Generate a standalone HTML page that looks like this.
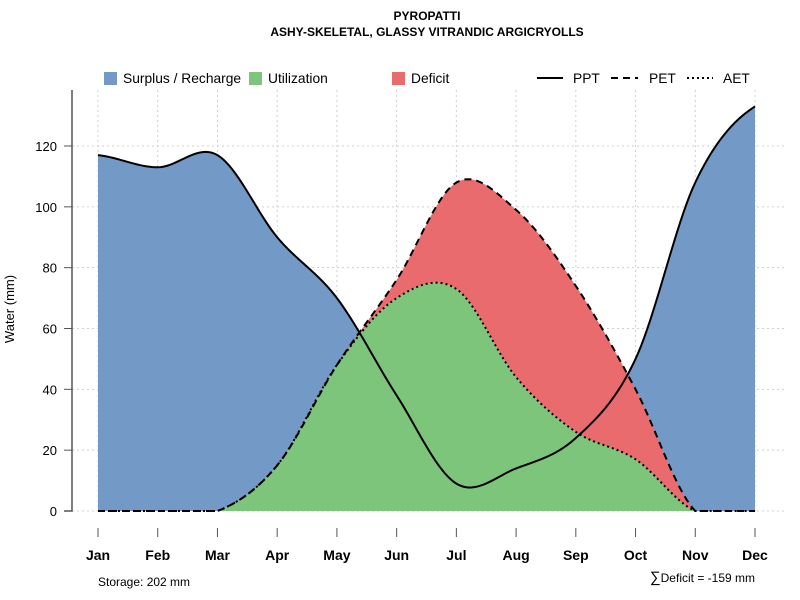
<!DOCTYPE html>
<html><head><meta charset="utf-8"><style>
body{margin:0;background:#fff}
svg{display:block;font-family:"Liberation Sans",sans-serif}
</style></head><body>
<svg id="c" width="800" height="600" xmlns="http://www.w3.org/2000/svg">
<text x="427" y="20" text-anchor="middle" font-size="12" font-weight="bold">PYROPATTI</text>
<text x="427" y="36" text-anchor="middle" font-size="12" font-weight="bold">ASHY-SKELETAL, GLASSY VITRANDIC ARGICRYOLLS</text>
<g id="grid"></g>
<g id="areas"></g>
<g id="lines"></g>
<g id="axes"></g>
<g font-size="13.8">
<rect x="104" y="72" width="13" height="13" fill="#7399c6"/>
<text x="123" y="83">Surplus / Recharge</text>
<rect x="249" y="72" width="13" height="13" fill="#7dc57b"/>
<text x="268" y="83">Utilization</text>
<rect x="392" y="72" width="13" height="13" fill="#ea6b6e"/>
<text x="411" y="83">Deficit</text>
<line x1="537" y1="78" x2="563" y2="78" stroke="#000" stroke-width="2"/>
<text x="573" y="83">PPT</text>
<line x1="611" y1="78" x2="638" y2="78" stroke="#000" stroke-width="2" stroke-dasharray="7,5"/>
<text x="649" y="83">PET</text>
<line x1="687" y1="78" x2="713" y2="78" stroke="#000" stroke-width="2" stroke-dasharray="2,3"/>
<text x="723" y="83">AET</text>
</g>
<text x="98" y="586" font-size="12">Storage: 202 mm</text>
<text x="755" y="582" text-anchor="end" font-size="12"><tspan font-size="15">∑</tspan>Deficit = -159 mm</text>
</svg>
<script>
const months=["Jan","Feb","Mar","Apr","May","Jun","Jul","Aug","Sep","Oct","Nov","Dec"];
const ppt=[117,113,117,90,70,38,9,14,24,50,108,133];
const pet=[0,0,0,15,48,76,108,99,74,40,0,0];
const aet=[0,0,0,15,48,70,73,44,26,17,0,0];
const yTicks=[0,20,40,60,80,100,120];
const NS="http://www.w3.org/2000/svg";
const X=i=>98+i*(755-98)/11;
const Y=v=>511-v*(511-146)/120;
function el(p,t,a){const e=document.createElementNS(NS,t);for(const k in a)e.setAttribute(k,a[k]);p.appendChild(e);return e;}
function sample(d){const pts=[];const n=d.length;
for(let i=0;i<n-1;i++){const p0=d[Math.max(0,i-1)],p1=d[i],p2=d[i+1],p3=d[Math.min(n-1,i+2)];
const m1=(p2-p0)/2,m2=(p3-p1)/2;
for(let s=0;s<20;s++){const t=s/20,t2=t*t,t3=t2*t;
let v=(2*t3-3*t2+1)*p1+(t3-2*t2+t)*m1+(-2*t3+3*t2)*p2+(t3-t2)*m2;
pts.push([i+t,Math.max(0,v)]);}}
pts.push([n-1,d[n-1]]);return pts;}
const sp=sample(ppt),se=sample(pet),sa=sample(aet);
const P=pts=>pts.map(p=>X(p[0]).toFixed(2)+","+Y(p[1]).toFixed(2)).join(" ");
const grid=document.getElementById("grid"),areas=document.getElementById("areas"),lines=document.getElementById("lines"),axes=document.getElementById("axes");
months.forEach((m,i)=>{const g=el(grid,"line",{x1:X(i),x2:X(i),y1:90,y2:511,stroke:"#d0d0d0","stroke-dasharray":"2,3"});
});
yTicks.forEach(v=>{const g=el(grid,"line",{x1:72,x2:785,y1:Y(v),y2:Y(v),stroke:"#d0d0d0","stroke-dasharray":"2,3"});
});
const base=[[11,0],[0,0]];
const a1=el(areas,"polygon",{points:P(sp.concat(base)),fill:"#7399c6"});

const a2=el(areas,"polygon",{points:P(se.concat(sa.slice().reverse())),fill:"#ea6b6e"});

const a3=el(areas,"polygon",{points:P(sa.concat(base)),fill:"#7dc57b"});

const l1=el(lines,"polyline",{points:P(sp),fill:"none",stroke:"#000","stroke-width":2});

const l2=el(lines,"polyline",{points:P(se),fill:"none",stroke:"#000","stroke-width":2,"stroke-dasharray":"7,5"});

const l3=el(lines,"polyline",{points:P(sa),fill:"none",stroke:"#000","stroke-width":2,"stroke-dasharray":"2,3"});

const ya=el(axes,"polyline",{points:"72,90 72,511 64,511",fill:"none",stroke:"#555","stroke-width":1.5});

yTicks.forEach(v=>{const t=el(axes,"line",{x1:64,x2:72,y1:Y(v),y2:Y(v),stroke:"#555"});

const l=el(axes,"text",{x:57,y:Y(v)+5,"text-anchor":"end","font-size":13});l.textContent=v;
});
months.forEach((m,i)=>{const t=el(axes,"line",{x1:X(i),x2:X(i),y1:528,y2:537,stroke:"#555"});

const l=el(axes,"text",{x:X(i),y:560,"text-anchor":"middle","font-size":14,"font-weight":"bold"});l.textContent=m;
});
const yt=el(axes,"text",{x:14,y:309,"text-anchor":"middle","font-size":13,transform:"rotate(-90 14 309)"});yt.textContent="Water (mm)";

</script>
</body></html>
